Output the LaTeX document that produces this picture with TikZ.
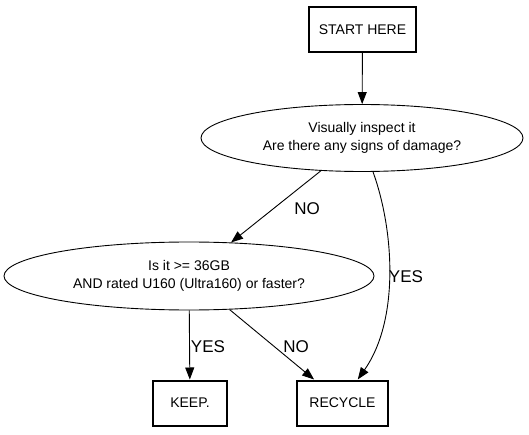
\documentclass[tikz,border=0pt]{standalone}
\usepackage{fontspec}
\setmainfont{Liberation Sans}
\usetikzlibrary{arrows.meta, shapes.geometric}

\begin{document}
\begin{tikzpicture}[
  x=1pt, y=-1pt,
  font=\fontsize{14}{18}\selectfont,
  box/.style={draw, line width=2pt, inner sep=0pt, minimum height=45pt},
  ask/.style={draw, ellipse, line width=0.9pt, align=center, inner sep=0pt},
  lbl/.style={font=\fontsize{17}{18}\selectfont, inner sep=0pt},
  ark/.style={-{Triangle[length=12pt, width=9pt]}, line width=0.9pt}
]
\useasboundingbox (0,0) rectangle (529,435);
\node[box, minimum width=107pt] (start) at (362.5,29.5) {START HERE};
\node[ask, minimum width=322pt, minimum height=67pt] (inspect) at (362,138)
  {Visually inspect it\\Are there any signs of damage?};
\node[ask, minimum width=370pt, minimum height=68pt] (size) at (189,276)
  {Is it >= 36GB\\AND rated U160 (Ultra160) or faster?};
\node[box, minimum width=74pt] (keep) at (190,403) {KEEP.};
\node[box, minimum width=91pt] (recycle) at (342.5,403) {RECYCLE};
\node[lbl] (no1) at (307,209) {NO};
\node[lbl] (yes1) at (406,277) {YES};
\node[lbl] (yes2) at (208,347) {YES};
\node[lbl] (no2) at (296,347) {NO};
\draw[ark] (start) -- (inspect);
\draw[ark] (inspect) -- (size);
\draw[ark] (inspect.-72) .. controls +(21,58) and +(42,-60) .. (recycle.57);
\draw[ark] (size) -- (keep);
\draw[ark] (size) -- (recycle);
\end{tikzpicture}
\end{document}
